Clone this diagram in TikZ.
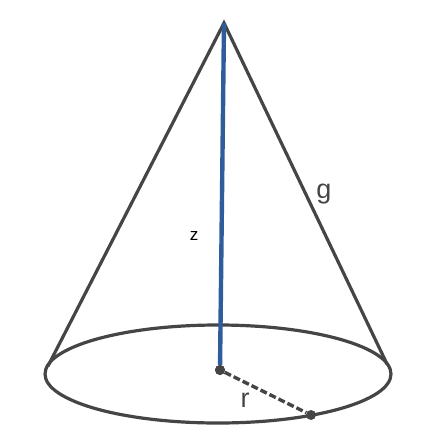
\documentclass[tikz,border=0pt]{standalone}
\usepackage{fontspec}
\setmainfont{Liberation Sans}
\definecolor{ink}{HTML}{454545}
\definecolor{axis}{HTML}{2F5D9B}
\tikzset{
  px/.style={x=1pt,y=-1pt},
  edge/.style={draw=ink,line width=3.2pt,line cap=round},
  radius line/.style={draw=ink,line width=3.4pt,dash pattern=on 7pt off 3pt},
  dotpt/.style={circle,fill=#1,inner sep=0pt,minimum size=10pt},
  lbl/.style={inner sep=0pt}
}
\begin{document}
\begin{tikzpicture}[px]
\useasboundingbox (0,0) rectangle (438,445);
\coordinate (A) at (224,23);
\coordinate (L) at (48,366);
\coordinate (R) at (387,364);
\draw[edge] (218,374) ellipse [x radius=173,y radius=49];
\draw[edge] (L) -- (A) -- (R);
\node[dotpt=ink] (C) at (220,370) {};
\node[dotpt=ink] (P) at (311,415) {};
\draw[radius line] (C) -- (P);
\draw[draw=axis,line width=4.4pt] (A) -- (C);
\node[dotpt=ink] at (C) {};
\node[lbl,text=black,font=\fontsize{17}{17}\selectfont] at (194,236) {z};
\node[lbl,text=ink,font=\fontsize{27}{27}\selectfont] at (324,194) {g};
\node[lbl,text=ink,font=\fontsize{27}{27}\selectfont] at (245,400) {r};
\end{tikzpicture}
\end{document}
